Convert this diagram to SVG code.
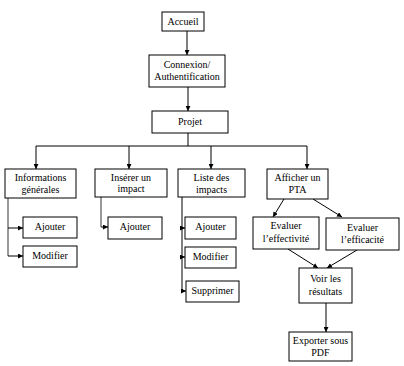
<svg xmlns="http://www.w3.org/2000/svg" width="404" height="366" viewBox="0 0 404 366">
<style>
.b{fill:#fff;stroke:#000;stroke-width:1}
.c{fill:none;stroke:#000;stroke-width:1}
.g{fill:none;stroke:#777;stroke-width:1.5}
text{font-family:'Liberation Serif','Times New Roman',serif;font-size:10px;fill:#000;text-anchor:middle}
</style>
<defs>
<marker id="a" viewBox="0 0 6 6" refX="6" refY="3" markerWidth="5" markerHeight="5" orient="auto" markerUnits="userSpaceOnUse">
<path d="M0,0L6,3L0,6z" fill="#000"/>
</marker>
</defs>
<rect width="404" height="366" fill="#fff"/>
<g id="connectors">
<path class="c" d="M187,31V55" marker-end="url(#a)"/>
<path class="c" d="M188,87V111" marker-end="url(#a)"/>
<path class="c" d="M188,133V146M36,146H307"/>
<path class="c" d="M36,146V169" marker-end="url(#a)"/>
<path class="c" d="M129,146V169" marker-end="url(#a)"/>
<path class="c" d="M211,146V169" marker-end="url(#a)"/>
<path class="c" d="M307,146V169" marker-end="url(#a)"/>
<path class="g" d="M8,198V256"/>
<path class="c" d="M8,228H23" marker-end="url(#a)"/>
<path class="c" d="M8,256H23" marker-end="url(#a)"/>
<path class="g" d="M101,197V227"/>
<path class="c" d="M101,227H108" marker-end="url(#a)"/>
<path class="c" d="M182,197V291"/>
<path class="c" d="M182,228H185" marker-end="url(#a)"/>
<path class="c" d="M182,257H185" marker-end="url(#a)"/>
<path class="c" d="M182,291H186" marker-end="url(#a)"/>
<path class="c" d="M284,199L273,217" marker-end="url(#a)"/>
<path class="c" d="M313,199L342,217" marker-end="url(#a)"/>
<path class="c" d="M288,249L318,268" marker-end="url(#a)"/>
<path class="c" d="M357,250L327,268" marker-end="url(#a)"/>
<path class="c" d="M326,303V332" marker-end="url(#a)"/>
</g>
<g id="accueil"><rect class="b" x="162" y="12" width="42" height="19"/><text x="183" y="25" font-family="Liberation Serif">Accueil</text></g>
<g id="connexion"><rect class="b" x="149" y="55" width="76" height="32"/><text x="187" y="68" font-family="Liberation Serif">Connexion/</text><text x="187" y="80" font-family="Liberation Serif">Authentification</text></g>
<g id="projet"><rect class="b" x="152" y="111" width="76" height="22"/><text x="190" y="125" font-family="Liberation Serif">Projet</text></g>
<g id="infos"><rect class="b" x="5" y="169" width="71" height="29"/><text x="40.5" y="181" font-family="Liberation Serif">Informations</text><text x="40.5" y="193" font-family="Liberation Serif">générales</text></g>
<g id="inserer"><rect class="b" x="95" y="169" width="72" height="28"/><text x="131" y="181" font-family="Liberation Serif">Insérer un</text><text x="131" y="192" font-family="Liberation Serif">impact</text></g>
<g id="liste"><rect class="b" x="178" y="169" width="67" height="28"/><text x="211.5" y="181" font-family="Liberation Serif">Liste des</text><text x="211.5" y="193" font-family="Liberation Serif">impacts</text></g>
<g id="afficher"><rect class="b" x="267" y="169" width="61" height="30"/><text x="297.5" y="181" font-family="Liberation Serif">Afficher un</text><text x="297.5" y="193" font-family="Liberation Serif">PTA</text></g>
<g id="infos-ajouter"><rect class="b" x="23" y="217" width="54" height="21"/><text x="50" y="230" font-family="Liberation Serif">Ajouter</text></g>
<g id="infos-modifier"><rect class="b" x="23" y="246" width="54" height="21"/><text x="50" y="259" font-family="Liberation Serif">Modifier</text></g>
<g id="inserer-ajouter"><rect class="b" x="108" y="217" width="54" height="22"/><text x="135" y="230" font-family="Liberation Serif">Ajouter</text></g>
<g id="liste-ajouter"><rect class="b" x="185" y="217" width="51" height="22"/><text x="210.5" y="230" font-family="Liberation Serif">Ajouter</text></g>
<g id="liste-modifier"><rect class="b" x="185" y="247" width="51" height="21"/><text x="210.5" y="260" font-family="Liberation Serif">Modifier</text></g>
<g id="liste-supprimer"><rect class="b" x="186" y="281" width="53" height="21"/><text x="212.5" y="294" font-family="Liberation Serif">Supprimer</text></g>
<g id="effectivite"><rect class="b" x="253" y="217" width="66" height="32"/><text x="286" y="229" font-family="Liberation Serif">Evaluer</text><text x="286" y="242" font-family="Liberation Serif">l’effectivité</text></g>
<g id="efficacite"><rect class="b" x="326" y="218" width="73" height="32"/><text x="362.5" y="231" font-family="Liberation Serif">Evaluer</text><text x="362.5" y="243" font-family="Liberation Serif">l’efficacité</text></g>
<g id="resultats"><rect class="b" x="299" y="268" width="53" height="35"/><text x="325.5" y="282" font-family="Liberation Serif">Voir les</text><text x="325.5" y="295" font-family="Liberation Serif">résultats</text></g>
<g id="exporter"><rect class="b" x="289" y="332" width="63" height="29"/><text x="320.5" y="344" font-family="Liberation Serif">Exporter sous</text><text x="320.5" y="356" font-family="Liberation Serif">PDF</text></g>
</svg>
